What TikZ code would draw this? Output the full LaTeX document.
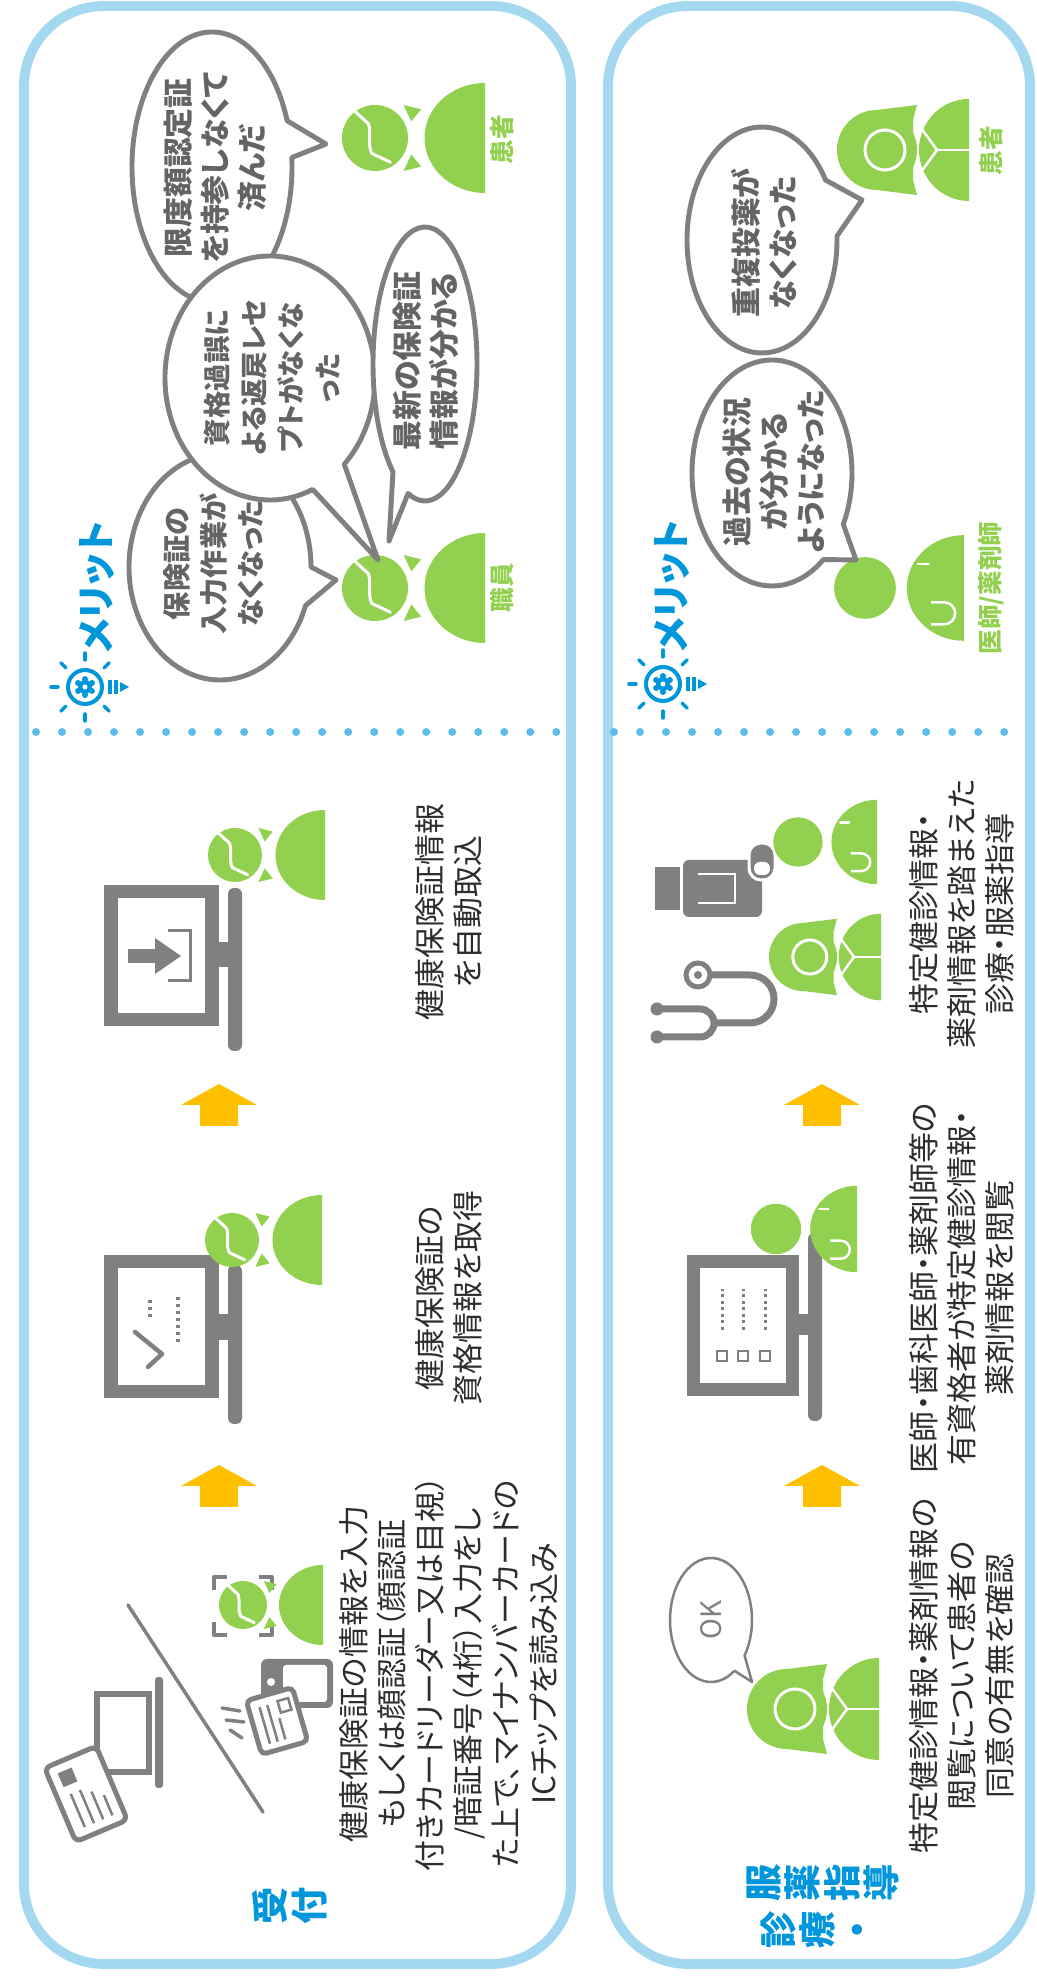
\documentclass[tikz,border=0pt]{standalone}
\usepackage{fontspec}
\setmainfont{Noto Sans CJK JP}[RawFeature=+palt]
\usepackage{tikz}
\definecolor{frameblue}{RGB}{163,216,240}
\definecolor{dotblue}{RGB}{92,190,232}
\definecolor{titleblue}{RGB}{0,150,219}
\definecolor{persongreen}{RGB}{146,208,80}
\definecolor{icongray}{RGB}{128,128,128}
\definecolor{bubbletext}{RGB}{100,100,100}
\definecolor{arroworange}{RGB}{255,192,0}
\definecolor{textdark}{RGB}{45,45,45}

\begin{document}
\begin{tikzpicture}[
  rotate=90, transform shape,
  x=0.01cm, y=-0.01cm,
  panel/.style={draw=frameblue, line width=2.8pt, rounded corners=0.8cm},
  sepline/.style={draw=dotblue, line width=0.08cm, line cap=round, dash pattern=on 0pt off 0.26cm},
  desc/.style={text=textdark, align=center, inner sep=0pt, font=\fontsize{8.8}{10.8}\selectfont},
  bubble/.style={draw=icongray, fill=white, line width=1.4pt, line join=round},
  bubtext/.style={text=bubbletext, align=center, inner sep=0pt, font=\bfseries\fontsize{8.5}{10.5}\selectfont},
  section/.style={text=titleblue, align=center, inner sep=0pt, font=\bfseries\fontsize{10.6}{11.2}\selectfont},
  merit/.style={text=titleblue, inner sep=0pt, font=\bfseries\fontsize{11}{12}\selectfont},
  who/.style={text=persongreen, inner sep=0pt, font=\bfseries\fontsize{7}{8}\selectfont},
  iconline/.style={draw=icongray, line width=0.06cm, line cap=round, line join=round},
  flowarrow/.pic={
    \fill[arroworange] (-21,-19) -- (0,-19) -- (0,-38) -- (21,0) -- (0,38) -- (0,19) -- (-21,19) -- cycle;
  },
  male/.pic={
    \fill[persongreen] (0,0) circle[radius=30];
    \draw[white, line width=0.03cm, line cap=round, line join=round]
      (24,-18) -- (13,-6) .. controls (4,-3) and (-6,-7) .. (-14,-3) -- (-22,14);
    \fill[persongreen] (-30,26) -- (-15,33) -- (-26,42) -- cycle;
    \fill[persongreen] (30,26) -- (15,33) -- (26,42) -- cycle;
    \fill[persongreen] (-50,100) arc[start angle=180, end angle=360, x radius=50, y radius=55] -- cycle;
  },
  female/.pic={
    \fill[persongreen] (0,0) circle[radius=40];
    \fill[persongreen] (-40,0) -- (-45,40) -- (-30,36) -- (30,36) -- (45,40) -- (40,0) -- cycle;
    \draw[white, fill=persongreen, line width=0.03cm] (0,8) circle[radius=20];
    \fill[persongreen] (-51,92) arc[start angle=180, end angle=360, x radius=51, y radius=50] -- cycle;
    \draw[white, line width=0.025cm] (0,60) -- (0,92);
    \draw[white, line width=0.025cm] (-22,44) -- (0,60) -- (22,44);
  },
  doctor/.pic={
    \fill[persongreen] (0,0) circle[radius=28];
    \fill[persongreen] (-48,90) arc[start angle=180, end angle=360, x radius=48, y radius=52] -- cycle;
    \draw[white, line width=0.025cm, line cap=round] (22,48) -- (22,58);
    \draw[white, line width=0.025cm] (-33,60) -- (-33,72) arc[start angle=180, end angle=0, radius=10] -- (-13,60);
  },
  bulb/.pic={
    \draw[titleblue, line width=0.04cm] (0,0) circle[radius=17];
    \foreach \a in {0,60,...,300} \fill[titleblue] (\a:8) circle[radius=3];
    \fill[titleblue] (0,0) circle[radius=7];
    \fill[white] (0,0) circle[radius=2.5];
    \draw[titleblue, line width=0.035cm] (-7,25) -- (7,25) (-7,31) -- (7,31);
    \fill[titleblue] (-5,35) -- (5,35) -- (0,44) -- cycle;
    \foreach \a in {-90,-135,-45,180,0,135,45}
      \draw[titleblue, line width=0.035cm, line cap=round] (\a:27) -- (\a:34);
  }
]
\useasboundingbox (0,0) rectangle (1978,1037);

% Frames
\draw[panel] (14,24) rectangle (1972,571);
\draw[panel] (14,608) rectangle (1972,1030);
\draw[sepline] (1246,36) -- (1246,560);
\draw[sepline] (1246,614) -- (1246,1026);

% ---- Reception ----
\node[section] (uketsuke) at (72,290) {受\\付};

% counter, PC and insurance card
\draw[iconline, line width=0.035cm] (373,128) -- (166,263);
\draw[icongray, line width=0.065cm] (206,97) rectangle (284,149);
\fill[icongray, rounded corners=0.03cm] (190,155) rectangle (301,163);
\begin{scope}[shift={(184,86)}, rotate=23]
  \draw[icongray, fill=white, line width=0.05cm, rounded corners=0.06cm] (-40,-28) rectangle (40,28);
  \draw[icongray, line width=0.025cm] (-30,-14) -- (6,-14) (-30,-4) -- (6,-4) (-30,6) -- (0,6) (-30,16) -- (-8,16);
  \fill[icongray] (15,-18) rectangle (30,-3);
\end{scope}

% card reader and My Number card
\fill[icongray, rounded corners=0.06cm] (270,261) rectangle (319,333);
\fill[white, rounded corners=0.03cm] (276,283) rectangle (313,327);
\fill[white] (296,271) circle[radius=4];
\begin{scope}[shift={(257,277)}, rotate=16]
  \draw[icongray, fill=white, line width=0.05cm, rounded corners=0.05cm] (-28,-24) rectangle (28,24);
  \draw[icongray, line width=0.025cm] (-20,-13) -- (18,-13) (-20,-5) -- (18,-5) (-20,3) -- (2,3);
  \draw[icongray, line width=0.025cm] (7,6) rectangle (19,17);
\end{scope}
\draw[iconline, line width=0.035cm] (270,222) -- (267,240) (258,226) -- (256,244) (248,230) -- (240,242);

% face recognition
\draw[iconline, line width=0.045cm, line cap=butt]
  (343,227) -- (343,214) -- (356,214)
  (388,214) -- (401,214) -- (401,227)
  (343,259) -- (343,272) -- (356,272)
  (388,272) -- (401,272) -- (401,259);
\pic[scale=0.8] at (373,243) {male};

\node[desc] (step1) at (304,449) {健康保険証の情報を入力\\もしくは顔認証（顔認証\\付きカードリーダー又は目視）\\/暗証番号（4桁）入力をし\\た上で、マイナンバーカードの\\ICチップを読み込み};

\pic at (492,219) {flowarrow};

% PC with check
\draw[icongray, line width=0.13cm] (586,111) rectangle (716,212);
\fill[icongray] (638,212) rectangle (664,230);
\fill[icongray, rounded corners=0.06cm] (554,228) rectangle (713,242);
\draw[iconline, line width=0.045cm] (611,148) -- (624,162) -- (646,135);
\draw[icongray, line width=0.035cm, dash pattern=on 0.03cm off 0.04cm] (661,150) -- (681,150) (636,178) -- (681,178);
\pic[scale=0.9] at (738,232) {male};

\node[desc] (step2) at (680,449) {健康保険証の\\資格情報を取得};

\pic at (873,219) {flowarrow};

% PC with download
\draw[icongray, line width=0.13cm] (958,111) rectangle (1086,212);
\fill[icongray] (1011,212) rectangle (1036,230);
\fill[icongray, rounded corners=0.06cm] (927,228) rectangle (1090,242);
\fill[icongray] (1015,128) rectangle (1029,156);
\fill[icongray] (1004,155) -- (1040,155) -- (1022,181) -- cycle;
\draw[icongray, line width=0.03cm] (997,168) -- (997,190) -- (1047,190) -- (1047,168);
\pic[scale=0.9] at (1123,235) {male};

\node[desc] (step3) at (1066,449) {健康保険証情報\\を自動取込};

% merits
\pic at (1291,85) {bulb};
\node[merit] (merit1) at (1391,97) {メリット};

\pic[scale=1.1] at (1390,375) {male};
\pic[scale=1.1] at (1840,375) {male};
\node[who] (staff) at (1390,502) {職員};
\node[who] (patient1) at (1838,502) {患者};

\coordinate (tip4) at (1834,326);
\coordinate (tip1) at (1398,336);
\coordinate (tip2) at (1418,378);
\coordinate (tip3) at (1437,389);
\draw[bubble] (1811,212) ++(86:135 and 80) arc[start angle=86, delta angle=344, x radius=135, y radius=80] -- (tip4) -- cycle;
\draw[bubble] (1411,220) ++(110:113 and 91) arc[start angle=110, delta angle=340, x radius=113, y radius=91] -- (tip1) -- cycle;
\draw[bubble] (1600,270) ++(156:122 and 105) arc[start angle=156, delta angle=339, x radius=122, y radius=105] -- (tip2) -- cycle;
\draw[bubble] (1614,425) ++(218:137 and 52) arc[start angle=218, delta angle=341, x radius=137, y radius=52] -- (tip3) -- cycle;

\node[bubtext] (say4) at (1810,215) {限度額認定証\\を持参しなくて\\済んだ};
\node[bubtext, font=\bfseries\fontsize{8}{10.5}\selectfont] (say1) at (1414,214) {保険証の\\入力作業が\\なくなった};
\node[bubtext, font=\bfseries\fontsize{7.8}{10.5}\selectfont] (say2) at (1600,272) {資格過誤に\\よる返戻レセ\\プトがなくな\\った};
\node[bubtext] (say3) at (1617,426) {最新の保険証\\情報が分かる};

% ---- Consultation ----
\node[section] (shinryo) at (48,816) {診\\療\\・};
\node[section] (fukuyaku) at (95,823) {服\\薬\\指\\導};

\draw[bubble, line width=0.025cm] (358,711) ++(145:62 and 41) arc[start angle=145, delta angle=340, x radius=62, y radius=41] -- (296,752) -- cycle;
\node[text=icongray, inner sep=0pt, font=\fontsize{8}{9}\selectfont] (ok) at (358,711) {OK};
\pic at (269,787) {female};

\node[desc] (stepA) at (302,962) {特定健診情報・薬剤情報の\\閲覧について患者の\\同意の有無を確認};

\pic at (492,822) {flowarrow};

% PC with form
\draw[icongray, line width=0.13cm] (588,693) rectangle (716,792);
\fill[icongray] (643,792) rectangle (664,810);
\fill[icongray, rounded corners=0.06cm] (557,808) rectangle (745,822);
\foreach \v in {722,743,765} {
  \draw[icongray, line width=0.025cm] (617,\v-5) rectangle (627,\v+5);
  \draw[icongray, line width=0.03cm, dash pattern=on 0.03cm off 0.035cm] (648,\v) -- (689,\v);
}
\pic[scale=0.9] at (749,776) {doctor};

\node[desc] (stepB) at (690,962) {医師・歯科医師・薬剤師等の\\有資格者が特定健診情報・\\薬剤情報を閲覧};

\pic at (873,822) {flowarrow};

% stethoscope, medicine, doctor and pharmacist
\draw[icongray, line width=0.07cm] (941,660) -- (941,700) arc[start angle=180, end angle=0, radius=14] -- (969,660);
\draw[icongray, line width=0.07cm] (955,714) -- (955,750) arc[start angle=180, end angle=0, radius=24] -- (1003,711);
\fill[icongray] (941,657) circle[radius=6.5] (969,657) circle[radius=6.5];
\draw[icongray, line width=0.05cm, fill=white] (1003,698) circle[radius=12];
\fill[icongray] (1003,698) circle[radius=4];

\fill[icongray] (1068,655) rectangle (1111,680);
\fill[icongray, rounded corners=0.06cm] (1061,683) rectangle (1118,762);
\draw[white, line width=0.025cm] (1075,698) -- (1075,735) -- (1104,735) -- (1104,698);
\draw[white, fill=icongray, line width=0.03cm, rounded corners=0.12cm] (1098,749) rectangle (1135,775);
\fill[white, rounded corners=0.06cm] (1103,754) rectangle (1116,770);

\pic[scale=0.85] at (1021,803) {female};
\pic[scale=0.88] at (1136,798) {doctor};

\node[desc] (stepC) at (1064,962) {特定健診情報・\\薬剤情報を踏まえた\\診療・服薬指導};

% merits
\pic at (1294,663) {bulb};
\node[merit] (merit2) at (1392,672) {メリット};

\pic[scale=1.1] at (1390,865) {doctor};
\pic at (1828,877) {female};
\node[who] (doc) at (1390,991) {医師/薬剤師};
\node[who] (patient2) at (1827,991) {患者};

\coordinate (tip5) at (1418,856);
\coordinate (tip6) at (1778,862);
\draw[bubble] (1505,772) ++(140:113 and 80) arc[start angle=140, delta angle=337, x radius=113, y radius=80] -- (tip5) -- cycle;
\draw[bubble] (1738,762) ++(88:113 and 75) arc[start angle=88, delta angle=330, x radius=113, y radius=75] -- (tip6) -- cycle;
\node[bubtext] (say5) at (1506,774) {過去の状況\\が分かる\\ようになった};
\node[bubtext] (say6) at (1735,764) {重複投薬が\\なくなった};

\end{tikzpicture}
\end{document}
